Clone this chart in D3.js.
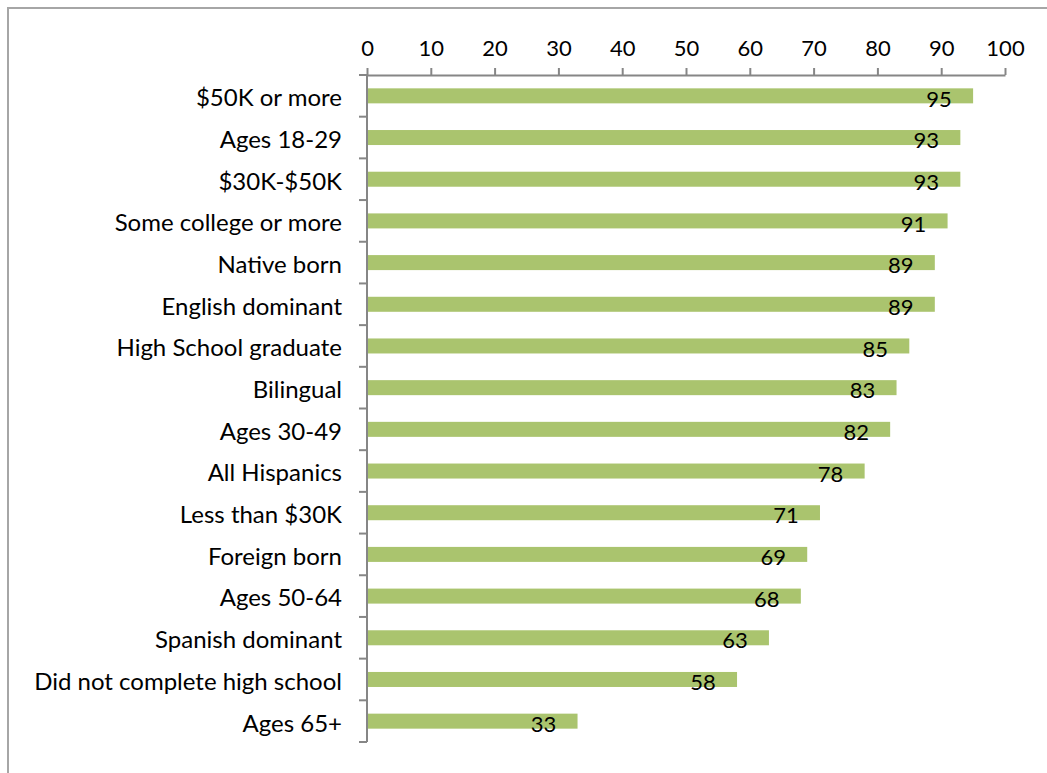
<!DOCTYPE html>
<html><head><meta charset="utf-8">
<script src="https://cdn.jsdelivr.net/npm/d3@7"></script>
<style>body{margin:0;background:#fff}svg{display:block}</style>
</head><body>
<svg id="c" width="1047" height="773"></svg>
<script>
const categories = ["$50K or more","Ages 18-29","$30K-$50K","Some college or more","Native born","English dominant","High School graduate","Bilingual","Ages 30-49","All Hispanics","Less than $30K","Foreign born","Ages 50-64","Spanish dominant","Did not complete high school","Ages 65+"];
const values = [95,93,93,91,89,89,85,83,82,78,71,69,68,63,58,33];
const tickValues = [0,10,20,30,40,50,60,70,80,90,100];

const svg = d3.select("#c");
const font = "Lato, 'Open Sans', sans-serif";
svg.append("rect").attr("x",8).attr("y",8).attr("width",1100).attr("height",900)
  .attr("fill","none").attr("stroke","#a6a6a6").attr("stroke-width",2);

const plotTop = 75, plotBottom = 742;
const x = d3.scaleLinear().domain([0,100]).range([367,1005]);
const y = d3.scaleBand().domain(categories).range([plotTop,plotBottom]).paddingInner(0.64).paddingOuter(0.32);
const step = y.step();

// bars
svg.selectAll("rect.bar").data(values).join("rect").attr("class","bar")
  .attr("x",x(0)).attr("y",(d,i)=>y(categories[i]))
  .attr("width",d=>x(d)-x(0)).attr("height",y.bandwidth())
  .attr("fill","#AAC46E");

// x axis at top
const xa = svg.append("g").attr("transform",`translate(0,${plotTop})`)
  .call(d3.axisTop(x).tickValues(tickValues).tickSize(7).tickPadding(12).tickSizeOuter(0));
xa.select(".domain").attr("stroke","#868686").attr("stroke-width",2);
xa.selectAll(".tick line").attr("stroke","#868686").attr("stroke-width",2);
xa.selectAll(".tick text").attr("font-family",font).attr("font-size",22).attr("fill","#000");

// y axis line and ticks at band boundaries
const ya = svg.append("g");
ya.append("line").attr("x1",x(0)).attr("x2",x(0)).attr("y1",plotTop).attr("y2",plotBottom)
  .attr("stroke","#868686").attr("stroke-width",2);
const bounds = d3.range(categories.length+1).map(i=>plotTop+i*step);
ya.selectAll("line.t").data(bounds).join("line").attr("class","t")
  .attr("x1",x(0)-8).attr("x2",x(0)).attr("y1",d=>d).attr("y2",d=>d)
  .attr("stroke","#868686").attr("stroke-width",2);
ya.selectAll("text").data(categories).join("text")
  .attr("x",342).attr("y",d=>y(d)+y.bandwidth()/2+2)
  .attr("dy","0.35em").attr("text-anchor","end")
  .attr("font-family",font).attr("font-size",24).attr("fill","#000").text(d=>d);

// value labels
svg.selectAll("text.val").data(values).join("text").attr("class","val")
  .attr("x",d=>x(d)-34).attr("y",(d,i)=>y(categories[i])+y.bandwidth()/2+3)
  .attr("dy","0.35em").attr("text-anchor","middle")
  .attr("font-family",font).attr("font-size",22).attr("fill","#000").text(d=>d);
</script>
</body></html>
